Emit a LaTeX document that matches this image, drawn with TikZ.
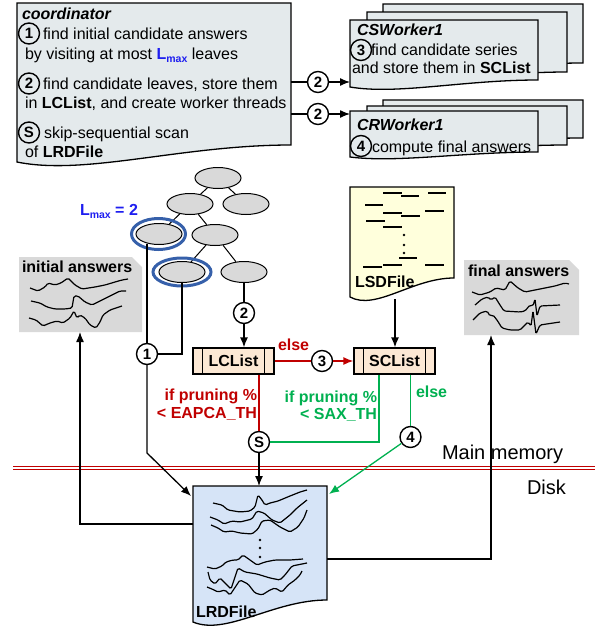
\documentclass[tikz,border=0pt]{standalone}
\usepackage{fontspec}
\setmainfont{Liberation Sans}
\usetikzlibrary{shapes.geometric,arrows.meta,calc}
\definecolor{docfill}{RGB}{228,234,236}
\definecolor{lsdfill}{RGB}{255,255,220}
\definecolor{lrdfill}{RGB}{214,228,247}
\definecolor{listfill}{RGB}{252,232,212}
\definecolor{ansgray}{RGB}{217,217,217}
\definecolor{nodegray}{RGB}{217,217,217}
\definecolor{ringblue}{RGB}{54,96,170}
\definecolor{lmaxblue}{RGB}{30,30,240}
\definecolor{myred}{RGB}{192,0,0}
\definecolor{mygreen}{RGB}{0,176,80}
% document shape: style, L, T, R, B (left bottom), D (rise at right), E (dip)
\newcommand\docshape[7]{%
  \path[#1] (#2,#3) -- (#4,#3) -- (#4,{#5-#6})
    .. controls ({#2+0.6*(#4-#2)},{#5-#6}) and ({#2+0.25*(#4-#2)},{#5+#7}) .. (#2,#5) -- cycle;}
\newcommand\lmaxtxt{\textcolor{lmaxblue}{\bfseries L\raisebox{-3pt}{\fontsize{10.5}{10.5}\selectfont max}}}
\begin{document}
\begin{tikzpicture}[x=1pt,y=-1pt,
  font=\fontsize{16}{19}\selectfont, line width=1.3pt,
  >={Latex[length=10pt,width=8pt]},
  txt/.style={anchor=base west, inner sep=0pt, outer sep=0pt},
  txtr/.style={anchor=base east, inner sep=0pt, outer sep=0pt},
  circ/.style={circle, draw, fill=white, line width=1.4pt, minimum size=21pt, inner sep=0pt, font=\fontsize{15}{15}\selectfont\bfseries},
  circin/.style={circle, draw, line width=1.4pt, minimum size=21pt, inner sep=0pt, font=\fontsize{15}{15}\selectfont\bfseries},
  leaf/.style={ellipse, draw, fill=nodegray, minimum width=46pt, minimum height=21pt, inner sep=0pt, line width=1pt},
  ring/.style={ellipse, draw=ringblue, line width=3pt, inner sep=0pt},
  listbox/.style={draw, fill=listfill, minimum width=81pt, minimum height=26pt, inner sep=0pt, font=\fontsize{16}{16}\selectfont\bfseries},
  doc/.style={draw, line width=1.3pt},
  wave/.style={line width=1.2pt, rounded corners=1.5pt},
]
\useasboundingbox (0,0) rectangle (595,632);

% ---------- coordinator ----------
\docshape{doc, fill=docfill}{17}{3}{291}{162}{17}{14}
\node[txt] (coordT) at (22,19) {\bfseries\itshape coordinator};
\node[circin] (k1) at (29,33.5) {1};
\node[txt] (k1t) at (43,39) {find initial candidate answers};
\node[txt] (k1u) at (25,59) {by visiting at most \lmaxtxt{} leaves};
\node[circin] (k2) at (29,83.5) {2};
\node[txt] (k2t) at (43,89) {find candidate leaves, store them};
\node[txt] (k2u) at (25,108) {in \textbf{LCList}, and create worker threads};
\node[circin] (kS) at (29,132.5) {S};
\node[txt] (kSt) at (44,138) {skip-sequential scan};
\node[txt] (kSu) at (25,157) {of \textbf{LRDFile}};

% ---------- CS workers ----------
\docshape{doc, fill=docfill}{383}{4}{583}{70}{7}{8}
\docshape{doc, fill=docfill}{367}{12}{567}{79}{7}{8}
\docshape{doc, fill=docfill}{350}{20}{538}{87}{7}{8}
\node[txt] (csT) at (357,35) {\bfseries\itshape CSWorker1};
\node[circin] (w3) at (361,50) {3};
\node[txt] (w3t) at (371,55) {find candidate series};
\node[txt] (w3u) at (352,73) {and store them in \textbf{SCList}};

% ---------- CR workers ----------
\docshape{doc, fill=docfill}{383}{100}{583}{143}{5}{6}
\docshape{doc, fill=docfill}{367}{106}{567}{150}{5}{6}
\docshape{doc, fill=docfill}{350}{111}{538}{157}{5}{6}
\node[txt] (crT) at (357,130) {\bfseries\itshape CRWorker1};
\node[circin] (w4) at (361,146) {4};
\node[txt] (w4t) at (372,152) {compute final answers};

% coordinator -> workers
\coordinate (cr1) at (291,82);
\coordinate (cr2) at (291,114);
\coordinate (csin) at (350,82);
\coordinate (crin) at (350,114);
\node[circ] (c2a) at (318,82) {2};
\node[circ] (c2b) at (318,114) {2};
\draw (cr1) -- (c2a.west);
\draw[->] (c2a.east) -- (csin);
\draw (cr2) -- (c2b.west);
\draw[->] (c2b.east) -- (crin);

% ---------- tree ----------
\node[leaf] (t0) at (218,178) {};
\node[leaf] (t1) at (190,204) {};
\node[leaf] (t2) at (246,204) {};
\node[leaf] (t3) at (159,234) {};
\node[leaf] (t4) at (215,235) {};
\node[leaf] (t5) at (182,272) {};
\node[leaf] (t6) at (244,272) {};
\draw[line width=1pt] (t0) -- (t1);
\draw[line width=1pt] (t0) -- (t2);
\draw[line width=1pt] (t1) -- (t3);
\draw[line width=1pt] (t1) -- (t4);
\draw[line width=1pt] (t4) -- (t5);
\draw[line width=1pt] (t4) -- (t6);
\node[ring, minimum width=54pt, minimum height=31pt] (r3) at (158.5,234) {};
\node[ring, minimum width=58pt, minimum height=28pt] (r5) at (182,272) {};
\node[txt] (lmaxlab) at (80,215) {\lmaxtxt\textcolor{lmaxblue}{\bfseries{} = 2}};

% ---------- answer boxes ----------
\fill[ansgray] (19,257) -- (132,257) -- (142,267) -- (142,332) -- (19,332) -- cycle;
\node[txt] (iaT) at (22,272) {\bfseries initial answers};
\draw[wave] (30,288) -- (38,291) -- (45,287) -- (48,283) -- (55,285) -- (61,283) -- (68,278) -- (75,285) -- (82,289) -- (95,287) -- (105,285) -- (115,282) -- (122,280) -- (128,279);
\draw[wave] (31,301) -- (40,303) -- (47,307) -- (55,309) -- (65,309) -- (72,308) -- (74,296) -- (78,296) -- (85,302) -- (92,305) -- (100,301) -- (112,295) -- (120,291) -- (126,291);
\draw[wave] (29,318) -- (36,320) -- (43,326) -- (50,323) -- (57,321) -- (63,323) -- (70,318) -- (74,311) -- (77,318) -- (80,315) -- (85,318) -- (90,325) -- (96,328) -- (100,322) -- (103,315) -- (110,310) -- (122,306);

\fill[ansgray] (464,260) -- (569,260) -- (579,270) -- (579,335) -- (464,335) -- cycle;
\node[txt] (faT) at (468,276) {\bfseries final answers};
\draw[wave] (472,292) -- (480,295) -- (490,292) -- (496,288) -- (505,290) -- (510,281) -- (518,288) -- (525,292) -- (535,290) -- (545,288) -- (555,286) -- (565,283) -- (569,284);
\draw[wave] (475,305) -- (482,299) -- (488,297) -- (491,300) -- (495,297) -- (500,305) -- (504,311) -- (520,312) -- (525,311) -- (530,305) -- (533,306) -- (535,299) -- (537,316) -- (540,306) -- (560,305);
\draw[wave] (473,320) -- (480,313) -- (487,311) -- (490,316) -- (493,315) -- (497,320) -- (502,328) -- (510,330) -- (520,330) -- (525,325) -- (528,322) -- (531,326) -- (533,311) -- (536,334) -- (540,325) -- (560,322);

% ---------- LSDFile ----------
\docshape{doc, fill=lsdfill}{350}{187}{454}{297}{19}{14}
\node[txt] (lsdT) at (355,287) {\bfseries LSDFile};
\begin{scope}[line width=1.3pt]
\draw (383,193) -- (402,193);
\draw (401,196) -- (419,196);
\draw (428,193) -- (446,193);
\draw (365,205) -- (383,205);
\draw (383,213) -- (402,213);
\draw (401,216) -- (420,216);
\draw (425,211) -- (444,211);
\draw (366,221) -- (385,221);
\draw (383,227) -- (402,227);
\draw (399,258) -- (417,258);
\draw (383,265) -- (402,265);
\draw (363,267) -- (382,267);
\draw (425,265) -- (444,265);
\fill (404,235) circle (1.4pt);
\fill (404,245) circle (1.4pt);
\fill (404,253) circle (1.4pt);
\end{scope}
\coordinate (lsdB) at (395,299);

% ---------- Main memory / Disk ----------
\coordinate (mm1) at (13,468);
\coordinate (mm2) at (595,468);
\draw[myred, line width=1pt, double=white, double distance=2.4pt] (mm1) -- (mm2);
\node[txt, font=\fontsize{20}{20}\selectfont] (mmT) at (442,459) {Main memory};
\node[txt, font=\fontsize{20}{20}\selectfont] (dkT) at (527,494) {Disk};

% ---------- LRDFile ----------
\docshape{doc, fill=lrdfill}{193}{486}{327}{622}{22}{14}
\node[txt] (lrdT) at (196,617) {\bfseries LRDFile};
\draw[wave] (213,503) -- (222,505) -- (228,510) -- (240,512) -- (250,511) -- (255,507) -- (258,495) -- (262,500) -- (265,505) -- (270,503) -- (278,501) -- (290,496) -- (300,492) -- (307,490);
\draw[wave] (210,517) -- (218,520) -- (224,524) -- (232,521) -- (240,522) -- (252,519) -- (257,511) -- (264,513) -- (272,520) -- (280,523) -- (290,515) -- (297,508) -- (307,500);
\draw[wave] (211,525) -- (218,528) -- (224,532) -- (232,531) -- (240,533) -- (252,534) -- (258,529) -- (262,521) -- (270,520) -- (280,527) -- (290,532) -- (298,527) -- (304,518) -- (307,510);
\fill (260,540) circle (1.4pt);
\fill (260,548) circle (1.4pt);
\fill (260,557) circle (1.4pt);
\draw[wave] (207,567) -- (215,569) -- (222,566) -- (226,562) -- (233,560) -- (238,560) -- (243,555) -- (250,560) -- (257,565) -- (265,562) -- (275,560) -- (290,560) -- (303,559);
\draw[wave] (208,572) -- (210,580) -- (215,584) -- (220,578) -- (225,583) -- (231,589) -- (238,568) -- (245,572) -- (257,574) -- (270,578) -- (280,580) -- (285,575) -- (292,566) -- (307,563);
\draw[wave] (207,587) -- (212,589) -- (218,592) -- (225,590) -- (230,595) -- (240,580) -- (248,584) -- (255,593) -- (262,595) -- (270,590) -- (275,588) -- (282,592) -- (288,585) -- (295,580) -- (300,575) -- (302,571);
\coordinate (lrdTop) at (259,486);
\coordinate (lrdA) at (191,496);
\coordinate (lrdR) at (329,494);
\coordinate (lrdL) at (193,524);
\coordinate (lrdRr) at (327,559);
\coordinate (iaB) at (80,332);
\coordinate (faB) at (491,335);

% ---------- lists ----------
\node[listbox] (lc) at (233.5,361) {LCList};
\draw ([xshift=10pt]lc.north west) -- ([xshift=10pt]lc.south west);
\draw ([xshift=-10pt]lc.north east) -- ([xshift=-10pt]lc.south east);
\node[listbox] (sc) at (394.5,361) {SCList};
\draw ([xshift=10pt]sc.north west) -- ([xshift=10pt]sc.south west);
\draw ([xshift=-10pt]sc.north east) -- ([xshift=-10pt]sc.south east);

% ---------- circles on connectors ----------
\node[circ] (c1) at (147,354) {1};
\node[circ] (c2t) at (244,313) {2};
\node[circ] (c3) at (322,361) {3};
\node[circ] (cS) at (259,442) {S};
\node[circ] (c4) at (410.5,437) {4};

% ---------- connectors ----------
\draw (c1.north) -- ($(c1 |- t3.south)+(0,-1.5)$);
\draw (t5.south) |- (c1.east);
\draw[->] (c1.south) -- (147,453) -- (lrdA);
\draw (t6.south) -- (c2t.north);
\draw[->] (c2t.south) -- (c2t.south |- lc.north);
\draw[myred] (lc.east) -- (c3.west);
\draw[myred, ->] (c3.east) -- (sc.west);
\node[txt, text=myred, font=\fontsize{16}{16}\selectfont\bfseries] (elseR) at (278,350) {else};
\draw[myred] (lc.south -| cS) -- (cS.north);
\node[txtr, text=myred, font=\fontsize{16}{16}\selectfont\bfseries] (ifR1) at (257,400) {if pruning \%};
\node[txtr, text=myred, font=\fontsize{16}{16}\selectfont\bfseries] (ifR2) at (257,418) {< EAPCA\_TH};
\draw[->] (cS.south) -- (lrdTop);
\draw[mygreen] (cS.east) -| ($(sc.south)+(-15.5,0)$);
\node[txtr, text=mygreen, font=\fontsize{16}{16}\selectfont\bfseries] (ifG1) at (377,402) {if pruning \%};
\node[txtr, text=mygreen, font=\fontsize{16}{16}\selectfont\bfseries] (ifG2) at (377,419) {< SAX\_TH};
\draw[mygreen] ($(sc.south)+(16,0)$) -- (c4.north);
\node[txt, text=mygreen, font=\fontsize{16}{16}\selectfont\bfseries] (elseG) at (416,397) {else};
\draw[mygreen, ->] (c4) -- (lrdR);
\draw[->] (lsdB) -- (lsdB |- sc.north);
\draw[->] (lrdL) -| (iaB);
\draw[->] (lrdRr) -| (faB);
\end{tikzpicture}
\end{document}
